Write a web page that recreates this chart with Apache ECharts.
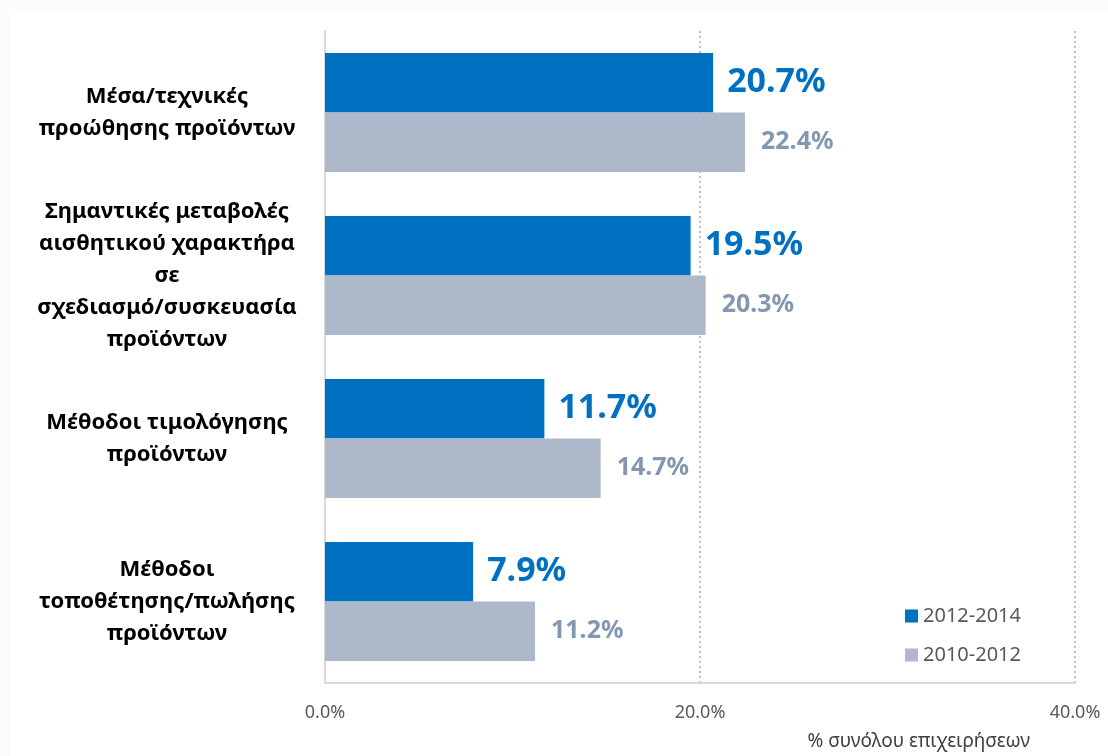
<!DOCTYPE html>
<html>
<head>
<meta charset="utf-8">
<script src="https://cdn.jsdelivr.net/npm/echarts@6/dist/echarts.min.js"></script>
<style>
  html, body { margin: 0; padding: 0; background: #fcfcfc; }
  #chart { position: absolute; left: 10px; top: 10px; width: 1098px; height: 746px; background: #fff; }
</style>
</head>
<body>
<div id="chart"></div>
<script>
const categories = [
  'Μέσα/τεχνικές\nπροώθησης προϊόντων',
  'Σημαντικές μεταβολές\nαισθητικού χαρακτήρα\nσε\nσχεδιασμό/συσκευασία\nπροϊόντων',
  'Μέθοδοι τιμολόγησης\nπροϊόντων',
  'Μέθοδοι\nτοποθέτησης/πωλήσης\nπροϊόντων'
]
const values2012_2014 = [20.7, 19.5, 11.7, 7.9]
const values2010_2012 = [22.4, 20.3, 14.7, 11.2]
const xTicks = [0, 20, 40]

const chart = echarts.init(document.getElementById('chart'))
const font = "'Noto Sans', sans-serif"

chart.setOption({
  animation: false,
  grid: { left: 315, right: 33, top: 21, bottom: 73 },
  legend: {
    orient: 'vertical',
    left: 890,
    top: 591,
    itemWidth: 13,
    itemHeight: 13,
    itemGap: 19,
    icon: 'rect',
    textStyle: { fontFamily: font, fontSize: 20, color: '#595959' },
    data: ['2012-2014', '2010-2012']
  },
  title: {
    text: '% συνόλου επιχειρήσεων',
    right: 73,
    bottom: 0,
    textStyle: { fontFamily: font, fontSize: 19, fontWeight: 'normal', color: '#404040' }
  },
  xAxis: {
    type: 'value',
    min: xTicks[0],
    max: xTicks[xTicks.length - 1],
    interval: 20,
    axisLine: { show: true, lineStyle: { color: '#d9d9d9', width: 2 } },
    axisTick: { show: false },
    axisLabel: {
      margin: 21,
      fontFamily: font,
      fontSize: 18,
      color: '#595959',
      formatter: (v) => v.toFixed(1) + '%'
    },
    splitLine: { show: true, lineStyle: { color: '#bfbfbf', width: 2, type: [2, 3] } }
  },
  yAxis: {
    type: 'category',
    inverse: true,
    data: categories,
    axisLine: { show: true, lineStyle: { color: '#d9d9d9', width: 2 } },
    axisTick: { show: false },
    axisLabel: {
      margin: 158,
      align: 'center',
      fontFamily: font,
      fontWeight: 'bold',
      fontSize: 22,
      lineHeight: 32,
      color: '#000'
    }
  },
  series: [
    {
      name: '2012-2014',
      type: 'bar',
      data: values2012_2014,
      barGap: '0%',
      barCategoryGap: '27%',
      itemStyle: { color: '#0070c0' },
      label: {
        show: true,
        position: 'right',
        distance: 14,
        fontFamily: font,
        fontWeight: 'bold',
        fontSize: 34,
        color: '#0070c0',
        formatter: (p) => p.value.toFixed(1) + '%'
      }
    },
    {
      name: '2010-2012',
      type: 'bar',
      data: values2010_2012,
      barGap: '0%',
      barCategoryGap: '27%',
      itemStyle: { color: '#adb9ca' },
      label: {
        show: true,
        position: 'right',
        distance: 16,
        fontFamily: font,
        fontWeight: 'bold',
        fontSize: 25,
        color: '#8497b0',
        formatter: (p) => p.value.toFixed(1) + '%'
      }
    }
  ]
})
</script>
</body>
</html>
